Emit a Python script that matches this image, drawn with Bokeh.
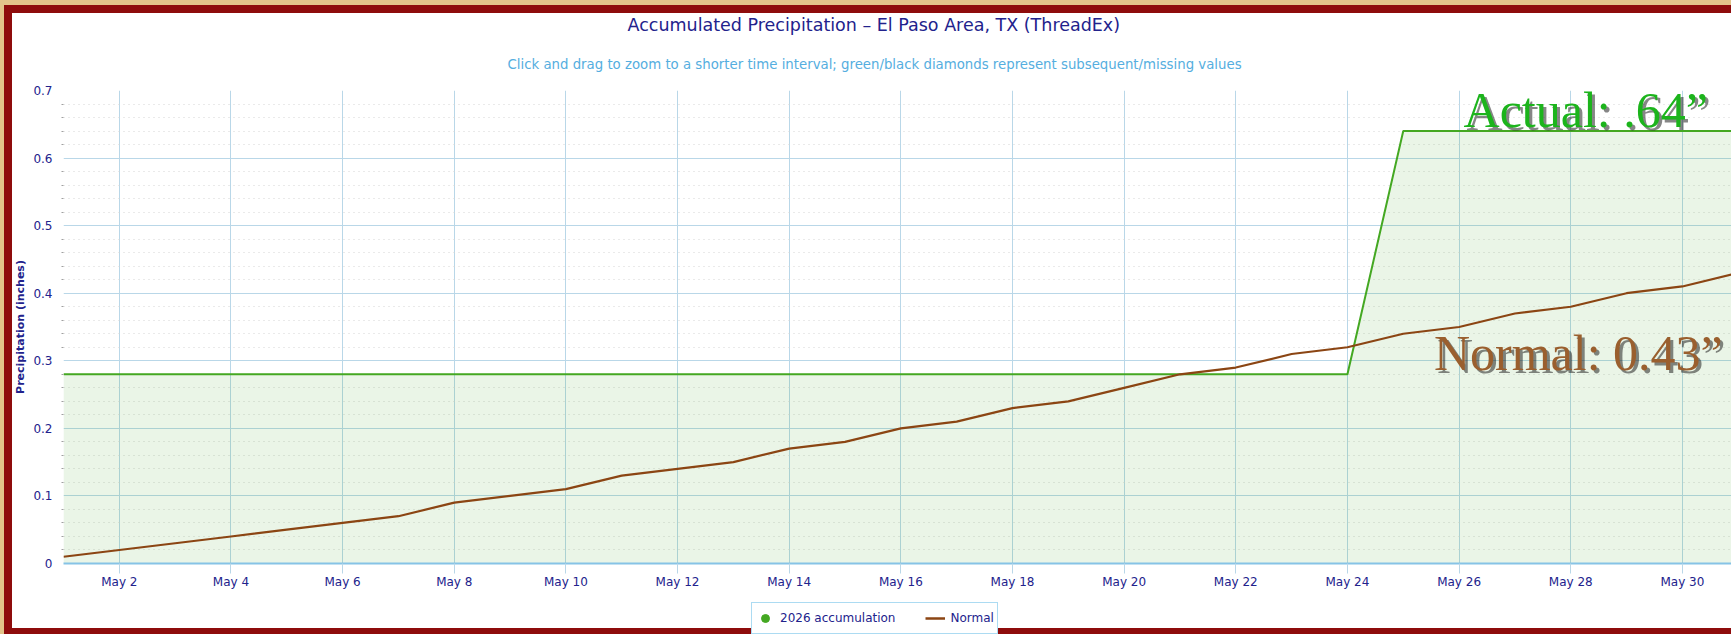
from bokeh.plotting import figure
from bokeh.layouts import column
from bokeh.models import (Range1d, FixedTicker, ColumnDataSource, Legend, LegendItem,
                          Label, Title, CustomJSTickFormatter)
from bokeh.embed import file_html
from bokeh.resources import INLINE

# ---- data ----
days = list(range(1, 32))  # May 1 .. May 31
normal = [0.01, 0.02, 0.03, 0.04, 0.05, 0.06, 0.07, 0.09, 0.10, 0.11,
          0.13, 0.14, 0.15, 0.17, 0.18, 0.20, 0.21, 0.23, 0.24, 0.26,
          0.28, 0.29, 0.31, 0.32, 0.34, 0.35, 0.37, 0.38, 0.40, 0.41, 0.43]
accum_2026 = [0.28, 0.28, 0.28, 0.28, 0.28, 0.28, 0.28, 0.28, 0.28, 0.28,
              0.28, 0.28, 0.28, 0.28, 0.28, 0.28, 0.28, 0.28, 0.28, 0.28,
              0.28, 0.28, 0.28, 0.28, 0.64, 0.64, 0.64, 0.64, 0.64, 0.64, 0.64]
x_ticks = [2, 4, 6, 8, 10, 12, 14, 16, 18, 20, 22, 24, 26, 28, 30]
x_tick_labels = ["May 2", "May 4", "May 6", "May 8", "May 10", "May 12", "May 14",
                 "May 16", "May 18", "May 20", "May 22", "May 24", "May 26",
                 "May 28", "May 30"]
y_ticks = [0, 0.1, 0.2, 0.3, 0.4, 0.5, 0.6, 0.7]
y_minor = [0.02, 0.04, 0.06, 0.08, 0.12, 0.14, 0.16, 0.18, 0.22, 0.24, 0.26, 0.28,
           0.32, 0.34, 0.36, 0.38, 0.42, 0.44, 0.46, 0.48, 0.52, 0.54, 0.56, 0.58,
           0.62, 0.64, 0.66, 0.68]

title_text = "Accumulated Precipitation \u2013 El Paso Area, TX (ThreadEx)"
subtitle_text = ("Click and drag to zoom to a shorter time interval; green/black diamonds "
                 "represent subsequent/missing values")
actual_text = "Actual: .64\u201d"
normal_text = "Normal: 0.43\u201d"
legend_labels = ["2026 accumulation", "Normal"]

NAVY = "#22228c"
GREEN = "#44a822"
BROWN = "#8b4513"
GRID = "#b9d7e8"
FONT = "DejaVu Sans"

src = ColumnDataSource(dict(day=days, normal=normal, accum=accum_2026))

# ---------------- main chart ----------------
p = figure(width=1731, height=600, output_backend="svg", toolbar_location=None,
           x_range=Range1d(1, 30.88), y_range=Range1d(0, 0.7))
p.min_border_left = 63
p.min_border_top = 90
p.min_border_bottom = 37
p.min_border_right = 0
p.outline_line_color = None
p.background_fill_color = "white"
p.border_fill_alpha = 0

p.varea(x="day", y1=0, y2="accum", source=src, fill_color=GREEN, fill_alpha=0.11)
p.line(x="day", y="accum", source=src, line_color=GREEN, line_width=2)
p.line(x="day", y="normal", source=src, line_color=BROWN, line_width=2.2)

xa = p.xaxis[0]
xa.ticker = FixedTicker(ticks=x_ticks)
xa.major_label_overrides = dict(zip(x_ticks, x_tick_labels))
xa.axis_line_color = "#86c3e6"
xa.axis_line_width = 2
xa.major_tick_line_color = GRID
xa.major_tick_out = 10
xa.major_tick_in = 0
xa.minor_tick_line_color = None
xa.major_label_standoff = 1
xa.major_label_text_font = FONT
xa.major_label_text_font_size = "12px"
xa.major_label_text_color = NAVY

ya = p.yaxis[0]
ya.ticker = FixedTicker(ticks=y_ticks, minor_ticks=y_minor)
ya.formatter = CustomJSTickFormatter(code="const s = tick.toFixed(1); return s == '0.0' ? '0' : s;")
ya.axis_line_color = None
ya.major_tick_line_color = None
ya.minor_tick_line_color = "#a0a0a0"
ya.minor_tick_out = 2
ya.minor_tick_in = 0
ya.major_label_standoff = 5
ya.major_label_text_font = FONT
ya.major_label_text_font_size = "12px"
ya.major_label_text_color = NAVY
ya.axis_label = "Precipitation (inches)"
ya.axis_label_text_font = FONT
ya.axis_label_text_font_size = "11px"
ya.axis_label_text_font_style = "bold"
ya.axis_label_text_color = NAVY
ya.axis_label_standoff = 3

p.xgrid.grid_line_color = GRID
p.xgrid.ticker = FixedTicker(ticks=x_ticks)
p.ygrid.grid_line_color = GRID
p.ygrid.ticker = FixedTicker(ticks=y_ticks, minor_ticks=y_minor)
p.ygrid.minor_grid_line_color = "#d4d4d4"
p.ygrid.minor_grid_line_dash = "1 4"

# title / subtitle (subtitle nearest the frame)
p.add_layout(Title(text=subtitle_text, align="left", offset=444, standoff=37,
                   text_font=FONT, text_font_size="13.3px", text_font_style="normal",
                   text_color="#55aee0"), "above")
p.add_layout(Title(text=title_text, align="left", offset=564, standoff=4,
                   text_font=FONT, text_font_size="17.5px", text_font_style="normal",
                   text_color=NAVY), "above")

# big annotations with shadow
for txt, xx, yy, col in [(actual_text, 26.08, 0.6705, "#1cb41c"),
                          (normal_text, 25.55, 0.311, "#9a5f2e")]:
    p.add_layout(Label(x=xx, y=yy, x_offset=3, y_offset=-3, text=txt,
                       text_font="Liberation Serif", text_font_size="50px",
                       text_color="#222222", text_alpha=0.55, text_baseline="alphabetic"))
    p.add_layout(Label(x=xx, y=yy, text=txt, text_font="Liberation Serif",
                       text_font_size="50px", text_color=col,
                       text_baseline="alphabetic"))

# ---------------- legend strip ----------------
pl = figure(width=1731, height=34, output_backend="svg", toolbar_location=None,
            x_range=Range1d(0, 1), y_range=Range1d(0, 1))
pl.min_border_left = 0
pl.min_border_right = 0
pl.min_border_top = 0
pl.min_border_bottom = 0
pl.axis.visible = False
pl.grid.visible = False
pl.outline_line_color = None
pl.background_fill_alpha = 0
pl.border_fill_alpha = 0
nan = float("nan")
leg_dot = pl.scatter(x=[nan], y=[nan], marker="circle", size=12, fill_color=GREEN,
                     line_color=GREEN)
leg_line = pl.line(x=[nan, nan], y=[nan, nan], line_color=BROWN, line_width=2.5)

legend = Legend(items=[LegendItem(label=legend_labels[0], renderers=[leg_dot]),
                       LegendItem(label=legend_labels[1], renderers=[leg_line])],
                location=(688, 0), orientation="horizontal")
legend.label_text_font = FONT
legend.label_text_font_size = "12px"
legend.label_text_color = NAVY
legend.border_line_color = "#5ab8e6"
legend.border_line_width = 1
legend.padding = 3
legend.margin = 0
legend.spacing = 30
legend.glyph_width = 20
legend.glyph_height = 24
legend.label_height = 20
legend.label_standoff = 5
legend.background_fill_color = "white"
legend.background_fill_alpha = 1
pl.add_layout(legend)

page = column(p, pl, spacing=0)
page.styles = {
    "background": ("linear-gradient(#ffffff, #ffffff) 12px 13px / calc(100% - 12px) calc(100% - 19px) no-repeat, "
                   "linear-gradient(#8e0c0c, #8e0c0c) 4px 5px / calc(100% - 4px) calc(100% - 5px) no-repeat, "
                   "#e3c48a"),
}

open("out.html", "w").write(file_html(page, INLINE))
